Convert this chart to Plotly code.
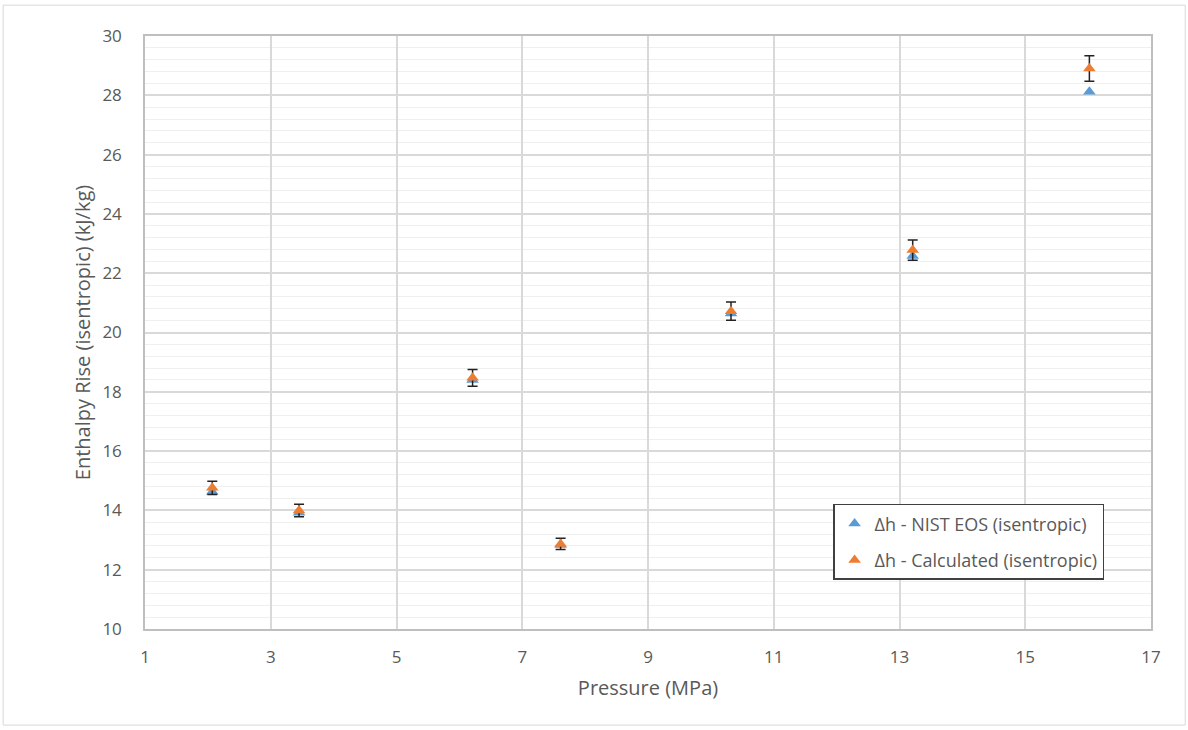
import plotly.graph_objects as go

pressure = [2.07, 3.45, 6.21, 7.61, 10.32, 13.21, 16.02]
dh_nist = [14.63, 13.92, 18.40, 12.83, 20.64, 22.58, 28.12]
dh_calc = [14.76, 14.00, 18.47, 12.87, 20.72, 22.78, 28.90]
calc_err = [0.22, 0.21, 0.28, 0.19, 0.31, 0.34, 0.43]

blue = "#5B9BD5"
orange = "#ED7D31"
font = "Open Sans"

fig = go.Figure()
fig.add_trace(go.Scatter(
    x=pressure, y=dh_nist, mode="markers",
    name="\u0394h - NIST EOS (isentropic)", legendgroup="a",
    marker=dict(symbol="triangle-up", size=11, color=blue),
))
fig.add_trace(go.Scatter(
    x=pressure, y=dh_calc, mode="markers",
    name="\u0394h - Calculated (isentropic)", legendgroup="b",
    marker=dict(symbol="triangle-up", size=11, color=orange),
    error_y=dict(type="data", array=calc_err, visible=True,
                 color="#222222", thickness=1.5, width=5),
))

fig.update_layout(
    width=1188, height=730,
    paper_bgcolor="white", plot_bgcolor="white",
    margin=dict(l=145, r=37, t=36, b=101),
    font=dict(family=font, color="#595959", size=16),
    showlegend=True,
    legend=dict(
        x=0.684, y=0.211, xanchor="left", yanchor="top",
        bgcolor="white", bordercolor="#404040", borderwidth=1.5,
        font=dict(size=18, color="#595959"),
        itemwidth=30, traceorder="grouped", tracegroupgap=10,
    ),
    xaxis=dict(
        range=[1, 17], dtick=2, tick0=1,
        showgrid=True, gridcolor="#D9D9D9", gridwidth=1.5,
        showline=True, linecolor="#BFBFBF", linewidth=1.5, mirror=True,
        zeroline=False, ticks="", ticklabelstandoff=12,
        title=dict(text="Pressure (MPa)", font=dict(size=20, color="#595959"), standoff=14),
        tickfont=dict(size=17, color="#595959"),
    ),
    yaxis=dict(
        range=[10, 30], dtick=2,
        showgrid=True, gridcolor="#D9D9D9", gridwidth=1.5,
        minor=dict(dtick=0.4, showgrid=True, gridcolor="#EFEFEF", gridwidth=1),
        showline=True, linecolor="#BFBFBF", linewidth=1.5, mirror=True,
        zeroline=False, ticks="", ticklabelstandoff=18,
        title=dict(text="Enthalpy Rise (isentropic) (kJ/kg)", font=dict(size=20, color="#595959"), standoff=6),
        tickfont=dict(size=17, color="#595959"),
    ),
)

fig.add_shape(type="rect", xref="paper", yref="paper",
              x0=-0.141, x1=1.034, y0=-0.162, y1=1.052,
              line=dict(color="#D9D9D9", width=1), layer="below")

fig.write_html("out.html")
